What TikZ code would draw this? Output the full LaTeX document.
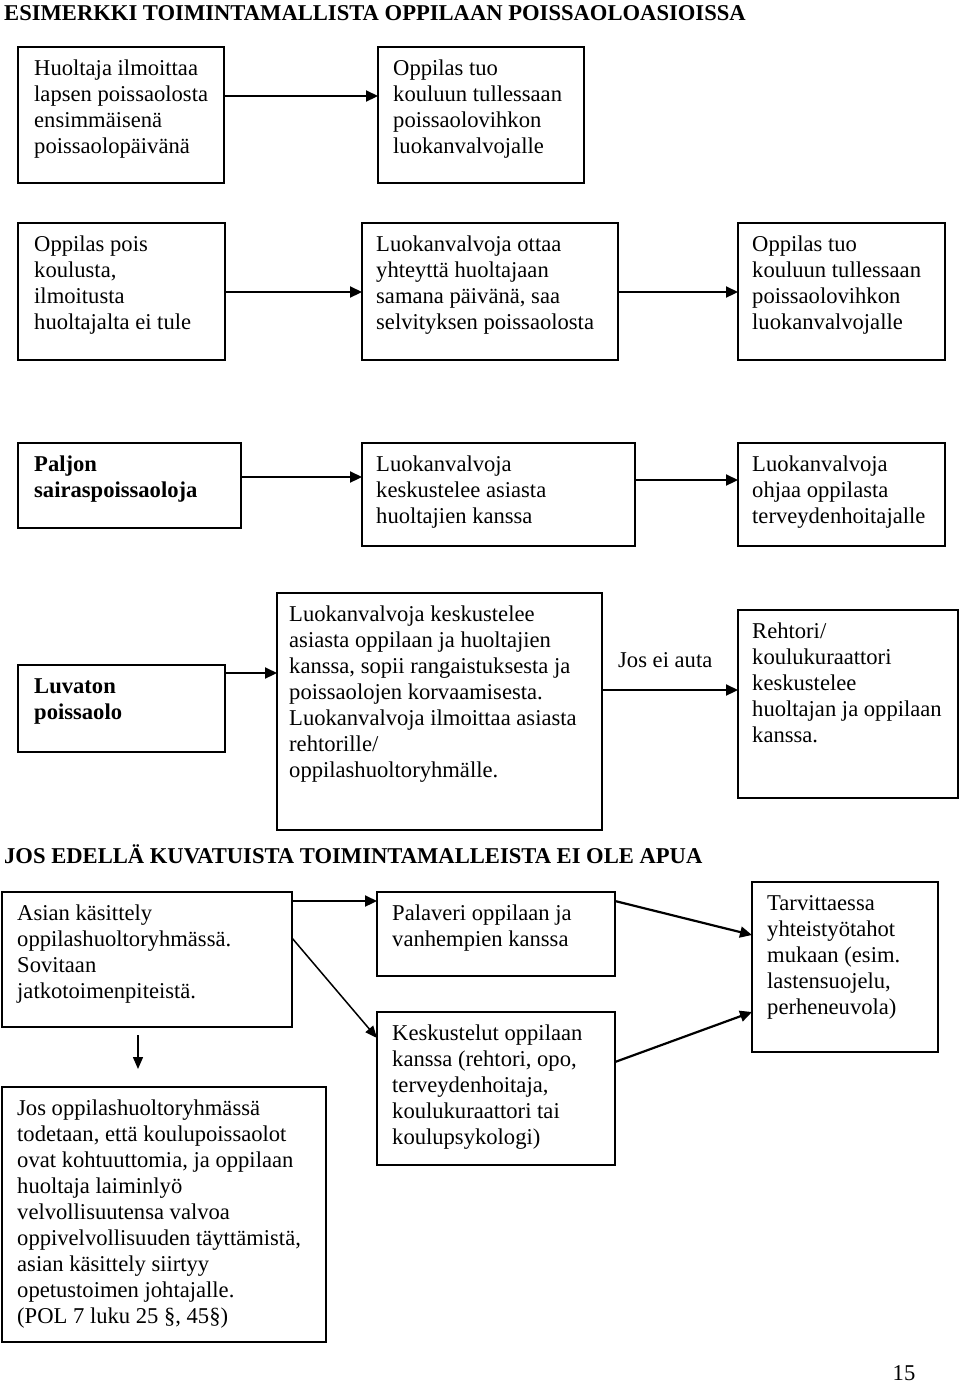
\documentclass[tikz,border=0pt]{standalone}
\usepackage{fontspec}
\setmainfont{Liberation Serif}
\usetikzlibrary{arrows.meta}
\newcommand{\bodyfont}{\fontsize{22.6}{26}\selectfont}
\tikzset{
  box/.style={draw, line width=1.8pt, anchor=north west, inner sep=0pt, outer sep=0pt},
  txt/.style={anchor=north west, inner sep=0pt, align=left, font=\bodyfont},
  head/.style={anchor=base west, inner sep=0pt, font=\bodyfont\bfseries},
  arr/.style={line width=2.2pt, -{Triangle[length=12pt,width=11pt]}},
  thinarr/.style={line width=1.5pt, -{Triangle[length=12pt,width=10pt]}},
}
\begin{document}
\begin{tikzpicture}[x=1pt,y=-1pt]
\useasboundingbox (0,0) rectangle (960,1385);
\fill[white] (0,0) rectangle (960,1385);

\node[head] (title) at (4,20) {ESIMERKKI TOIMINTAMALLISTA OPPILAAN POISSAOLOASIOISSA};

% Row 1
\node[box, minimum width=206pt, minimum height=136pt] (a1) at (18,47) {};
\node[box, minimum width=206pt, minimum height=136pt] (a2) at (378,47) {};
\node[txt] (a1t) at ([xshift=16pt,yshift=-13pt]a1.north west) {Huoltaja ilmoittaa\\lapsen poissaolosta\\ensimmäisenä\\poissaolopäivänä};
\node[txt] (a2t) at ([xshift=15pt,yshift=-13pt]a2.north west) {Oppilas tuo\\kouluun tullessaan\\poissaolovihkon\\luokanvalvojalle};
\draw[arr] ([yshift=-49pt]a1.north east) -- ([yshift=-49pt]a2.north west);

% Row 2
\node[box, minimum width=207pt, minimum height=137pt] (b1) at (18,223) {};
\node[box, minimum width=256pt, minimum height=137pt] (b2) at (362,223) {};
\node[box, minimum width=207pt, minimum height=137pt] (b3) at (738,223) {};
\node[txt] (b1t) at ([xshift=16pt,yshift=-13pt]b1.north west) {Oppilas pois\\koulusta,\\ilmoitusta\\huoltajalta ei tule};
\node[txt] (b2t) at ([xshift=14pt,yshift=-13pt]b2.north west) {Luokanvalvoja ottaa\\yhteyttä huoltajaan\\samana päivänä, saa\\selvityksen poissaolosta};
\node[txt] (b3t) at ([xshift=14pt,yshift=-13pt]b3.north west) {Oppilas tuo\\kouluun tullessaan\\poissaolovihkon\\luokanvalvojalle};
\draw[arr] ([yshift=-69pt]b1.north east) -- ([yshift=-69pt]b2.north west);
\draw[arr] ([yshift=-69pt]b2.north east) -- ([yshift=-69pt]b3.north west);

% Row 3
\node[box, minimum width=223pt, minimum height=85pt] (c1) at (18,443) {};
\node[box, minimum width=273pt, minimum height=103pt] (c2) at (362,443) {};
\node[box, minimum width=207pt, minimum height=103pt] (c3) at (738,443) {};
\node[txt, font=\bodyfont\bfseries] (c1t) at ([xshift=16pt,yshift=-13pt]c1.north west) {Paljon\\sairaspoissaoloja};
\node[txt] (c2t) at ([xshift=14pt,yshift=-13pt]c2.north west) {Luokanvalvoja\\keskustelee asiasta\\huoltajien kanssa};
\node[txt] (c3t) at ([xshift=14pt,yshift=-13pt]c3.north west) {Luokanvalvoja\\ohjaa oppilasta\\terveydenhoitajalle};
\draw[arr] ([yshift=-34pt]c1.north east) -- ([yshift=-34pt]c2.north west);
\draw[arr] ([yshift=-37pt]c2.north east) -- ([yshift=-37pt]c3.north west);

% Row 4
\node[box, minimum width=207pt, minimum height=87pt] (d1) at (18,665) {};
\node[box, minimum width=325pt, minimum height=237pt] (d2) at (277,593) {};
\node[box, minimum width=220pt, minimum height=188pt] (d3) at (738,610) {};
\node[txt, font=\bodyfont\bfseries] (d1t) at ([xshift=16pt,yshift=-13pt]d1.north west) {Luvaton\\poissaolo};
\node[txt] (d2t) at ([xshift=12pt,yshift=-13pt]d2.north west) {Luokanvalvoja keskustelee\\asiasta oppilaan ja huoltajien\\kanssa, sopii rangaistuksesta ja\\poissaolojen korvaamisesta.\\Luokanvalvoja ilmoittaa asiasta\\rehtorille/\\oppilashuoltoryhmälle.};
\node[txt] (d3t) at ([xshift=14pt,yshift=-13pt]d3.north west) {Rehtori/\\koulukuraattori\\keskustelee\\huoltajan ja oppilaan\\kanssa.};
\draw[arr] ([yshift=-8pt]d1.north east) -- ([yshift=-80pt]d2.north west);
\draw[arr] ([yshift=-97pt]d2.north east) -- ([yshift=-80pt]d3.north west);
\node[anchor=base west, inner sep=0pt, font=\bodyfont] (jos) at (618,667) {Jos ei auta};

% Heading 2
\node[head] (head2) at (4,863) {JOS EDELLÄ KUVATUISTA TOIMINTAMALLEISTA EI OLE APUA};

% Row 5
\node[box, minimum width=290pt, minimum height=135pt] (e1) at (2,892) {};
\node[box, minimum width=238pt, minimum height=84pt] (e2) at (377,892) {};
\node[box, minimum width=238pt, minimum height=153pt] (e3) at (377,1012) {};
\node[box, minimum width=186pt, minimum height=170pt] (e4) at (752,882) {};
\node[box, minimum width=324pt, minimum height=255pt] (e5) at (2,1087) {};
\node[txt] (e1t) at ([xshift=15pt,yshift=-13pt]e1.north west) {Asian käsittely\\oppilashuoltoryhmässä.\\Sovitaan\\jatkotoimenpiteistä.};
\node[txt] (e2t) at ([xshift=15pt,yshift=-13pt]e2.north west) {Palaveri oppilaan ja\\vanhempien kanssa};
\node[txt] (e3t) at ([xshift=15pt,yshift=-13pt]e3.north west) {Keskustelut oppilaan\\kanssa (rehtori, opo,\\terveydenhoitaja,\\koulukuraattori tai\\koulupsykologi)};
\node[txt] (e4t) at ([xshift=15pt,yshift=-13pt]e4.north west) {Tarvittaessa\\yhteistyötahot\\mukaan (esim.\\lastensuojelu,\\perheneuvola)};
\node[txt] (e5t) at ([xshift=15pt,yshift=-13pt]e5.north west) {Jos oppilashuoltoryhmässä\\todetaan, että koulupoissaolot\\ovat kohtuuttomia, ja oppilaan\\huoltaja laiminlyö\\velvollisuutensa valvoa\\oppivelvollisuuden täyttämistä,\\asian käsittely siirtyy\\opetustoimen johtajalle.\\(POL 7 luku 25 §, 45§)};

\draw[arr] ([yshift=-9pt]e1.north east) -- ([yshift=-9pt]e2.north west);
\draw[thinarr] ([yshift=-46pt]e1.north east) -- ([yshift=-26pt]e3.north west);
\draw[arr] ([yshift=-9pt]e2.north east) -- ([yshift=-53pt]e4.north west);
\draw[arr] ([yshift=-50pt]e3.north east) -- ([yshift=-130pt]e4.north west);
\coordinate (vstart) at (138,1035);
\coordinate (vend) at (138,1069);
\draw[thinarr] (vstart) -- (vend);

\node[anchor=base, inner sep=0pt, font=\bodyfont] (pagenum) at (904,1380) {15};
\end{tikzpicture}
\end{document}
